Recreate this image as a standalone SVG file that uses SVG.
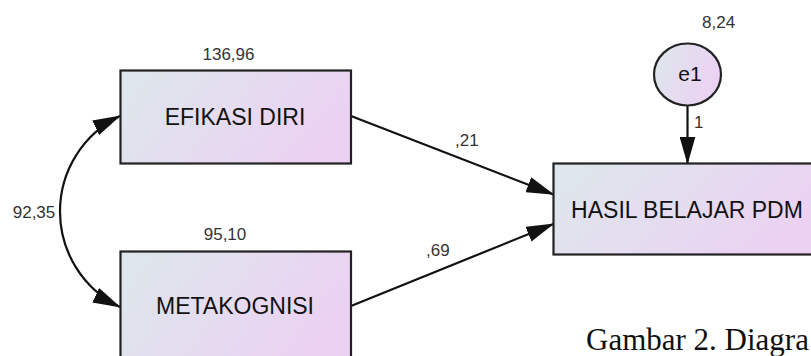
<svg xmlns="http://www.w3.org/2000/svg" width="811" height="356" viewBox="0 0 811 356">
<style>
.node{stroke:#222;stroke-width:2.2}
.nt{font-family:"Liberation Sans",Arial,sans-serif;font-size:23px;fill:#111;text-anchor:middle}
.lb{font-family:"Liberation Sans",Arial,sans-serif;font-size:17px;fill:#333}
.cn{fill:none;stroke:#111;stroke-width:2.2}
.cap{font-family:"Liberation Serif","Times New Roman",serif;font-size:31px;fill:#111}
</style>
<defs>
<linearGradient id="g" x1="0" y1="0" x2="1" y2="0.35">
<stop offset="0" stop-color="#dde8eb"/>
<stop offset="1" stop-color="#ebd2f3"/>
</linearGradient>
<marker id="ah" markerUnits="userSpaceOnUse" viewBox="0 0 28 16" markerWidth="28" markerHeight="16" refX="27" refY="8" orient="auto-start-reverse">
<path d="M0,0 L28,8 L0,16 z" fill="#111"/>
</marker>
</defs>
<g id="connectors">
<path class="cn" d="M351,116 L553.5,194.5" marker-end="url(#ah)"/>
<path class="cn" d="M351,306 L553.5,224" marker-end="url(#ah)"/>
<path class="cn" d="M687.5,105 L687.5,163.5" marker-end="url(#ah)"/>
<path class="cn" d="M120,116 A106,106 0 0 0 120,307" marker-start="url(#ah)" marker-end="url(#ah)"/>
<text class="lb" x="455" y="146">,21</text>
<text class="lb" x="426" y="256">,69</text>
<text class="lb" x="694" y="128">1</text>
<text class="lb" x="34" y="218" text-anchor="middle">92,35</text>
</g>
<g id="efikasi">
<rect class="node" x="120.5" y="70.5" width="230.5" height="93" fill="url(#g)"/>
<text class="nt" x="235" y="125">EFIKASI DIRI</text>
<text class="lb" x="228.5" y="60" text-anchor="middle">136,96</text>
</g>
<g id="metakognisi">
<rect class="node" x="120.5" y="251.5" width="230.5" height="108" fill="url(#g)"/>
<text class="nt" x="235" y="314">METAKOGNISI</text>
<text class="lb" x="225" y="240" text-anchor="middle">95,10</text>
</g>
<g id="hasil">
<rect class="node" x="553.5" y="163.5" width="268" height="91" fill="url(#g)"/>
<text class="nt" x="687" y="218">HASIL BELAJAR PDM</text>
</g>
<g id="e1">
<ellipse class="node" cx="687.5" cy="74.5" rx="33.5" ry="31" fill="url(#g)"/>
<text class="nt" x="690" y="81" style="font-size:21px">e1</text>
<text class="lb" x="702" y="27.5">8,24</text>
</g>
<text class="cap" x="586" y="350">Gambar 2. Diagra</text>
</svg>
